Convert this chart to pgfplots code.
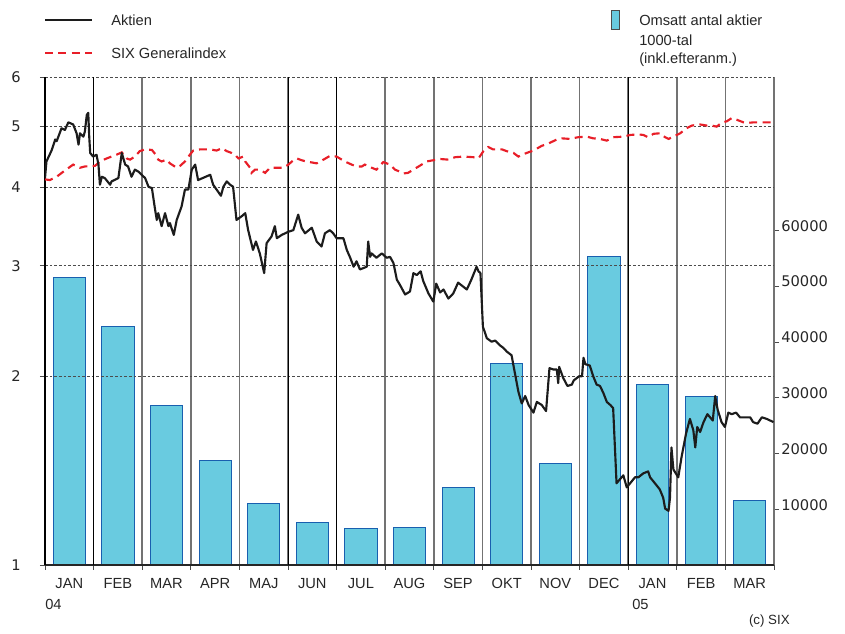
\documentclass[border=0pt]{standalone}
\usepackage{pgfplots}
\pgfplotsset{compat=1.18}
\usepackage{fontspec}
\setmainfont{Liberation Sans}
\newfontfamily\numfont{DejaVu Sans}
\definecolor{barfill}{RGB}{105,203,224}
\definecolor{baredge}{RGB}{25,95,175}
\definecolor{sixred}{RGB}{232,30,40}
\definecolor{aktblack}{RGB}{28,28,28}
\begin{document}
\begin{tikzpicture}[font=\fontsize{11}{13}\selectfont]
% bars: right linear axis
\begin{axis}[
  scale only axis, width=546.75pt, height=366pt,
  xmin=0, xmax=15, ymin=0, ymax=87500,
  axis x line=none, axis y line*=right,
  scaled y ticks=false,
  y axis line style={-, black!50, line width=1pt},
  ytick={10000,20000,30000,40000,50000,60000},
  yticklabels={10000,20000,30000,40000,50000,60000},
  tick align=outside, major tick length=3.75pt,
  y tick style={black!70, line width=0.6pt},
  yticklabel style={font=\numfont\fontsize{11}{13}\selectfont, anchor=west, inner sep=0pt, xshift=1.5pt, yshift=3.4pt, text=black!85},
]
\addplot[ybar, bar width=0.66, fill=barfill, draw=baredge, line width=0.6pt] coordinates {
(0.5,51550) (1.5,42800) (2.5,28630) (3.5,18800) (4.5,11070) (5.5,7620) (6.5,6550) (7.5,6660)
(8.5,13980) (9.5,36200) (10.5,18160) (11.5,55400) (12.5,32450) (13.5,30180) (14.5,11550)};
\end{axis}
% lines: left log axis
\begin{axis}[
  scale only axis, width=546.75pt, height=366pt,
  xmin=0, xmax=15, ymode=log, ymin=1, ymax=6,
  axis x line*=bottom, axis y line*=left,
  x axis line style={-, black!85, line width=0.8pt},
  y axis line style={-, black, line width=0.8pt},
  xtick={0.5,1.5,...,14.5},
  xticklabels={JAN,FEB,MAR,APR,MAJ,JUN,JUL,AUG,SEP,OKT,NOV,DEC,JAN,FEB,MAR},
  major x tick style={draw=none},
  minor xtick={0,1,...,15},
  xminorgrids, minor x grid style={black!55, line width=1.1pt},
  tick align=outside, minor tick length=3.75pt, major tick length=3.75pt,
  minor x tick style={black!70, line width=0.6pt},
  extra x ticks={1,5,6,12}, extra x tick labels={},
  extra x tick style={grid=major, major grid style={black, line width=0.6pt}, major x tick style={black, line width=0.6pt}},
  ytick={1,2,3,4,5,6}, yticklabels={1,2,3,4,5,6},
  yminorticks=false,
  ymajorgrids, y grid style={black!70, dash pattern=on 2pt off 1.5pt, line width=0.6pt},
  y tick style={black!70, line width=0.6pt},
  yticklabel style={font=\numfont\fontsize{11}{13}\selectfont, anchor=center, xshift=-18pt, text=black!85},
  xticklabel style={font=\fontsize{11}{13}\selectfont, text=black!85, yshift=-2.5pt},
]
\coordinate (SW) at (rel axis cs:0,0);
\coordinate (NW) at (rel axis cs:0,1);
\addplot[sixred, line width=1.6pt, dash pattern=on 6pt off 4pt] coordinates {
(0.00,4.12) (0.10,4.11) (0.24,4.16) (0.38,4.24) (0.58,4.35) (0.72,4.30) (0.82,4.32) (1.03,4.33)
(1.13,4.40) (1.27,4.45) (1.47,4.51) (1.58,4.55) (1.68,4.45) (1.75,4.43) (1.85,4.48) (1.95,4.57)
(2.06,4.60) (2.20,4.59) (2.28,4.51) (2.33,4.43) (2.40,4.40) (2.50,4.43) (2.57,4.37) (2.71,4.30)
(2.78,4.33) (2.88,4.40) (2.98,4.51) (3.05,4.58) (3.19,4.60) (3.40,4.60) (3.53,4.58) (3.64,4.62)
(3.74,4.57) (3.84,4.54) (3.91,4.51) (3.98,4.45) (4.08,4.48) (4.12,4.40) (4.22,4.30) (4.25,4.22)
(4.32,4.27) (4.42,4.27) (4.53,4.22) (4.63,4.30) (4.77,4.30) (4.90,4.30) (5.01,4.35) (5.08,4.40)
(5.18,4.45) (5.28,4.42) (5.38,4.40) (5.59,4.37) (5.73,4.43) (5.86,4.49) (6.00,4.48) (6.17,4.40)
(6.31,4.35) (6.41,4.32) (6.52,4.32) (6.58,4.35) (6.69,4.31) (6.82,4.27) (6.96,4.39) (7.10,4.35)
(7.20,4.27) (7.30,4.24) (7.37,4.21) (7.47,4.22) (7.58,4.27) (7.75,4.35) (7.85,4.40) (7.99,4.42)
(8.13,4.44) (8.30,4.43) (8.44,4.47) (8.61,4.48) (8.81,4.47) (8.92,4.45) (9.02,4.57) (9.12,4.64)
(9.22,4.60) (9.40,4.60) (9.50,4.57) (9.64,4.54) (9.74,4.48) (9.91,4.54) (10.05,4.58) (10.22,4.66)
(10.36,4.70) (10.53,4.77) (10.63,4.79) (10.80,4.78) (10.97,4.81) (11.15,4.82) (11.28,4.79) (11.42,4.78)
(11.56,4.75) (11.69,4.81) (11.90,4.82) (12.04,4.85) (12.21,4.86) (12.31,4.85) (12.41,4.81) (12.52,4.87)
(12.65,4.88) (12.76,4.81) (12.83,4.78) (12.93,4.82) (13.07,4.88) (13.20,4.97) (13.31,5.02) (13.48,5.04)
(13.62,5.02) (13.72,5.02) (13.82,5.00) (13.92,5.07) (14.03,5.10) (14.13,5.16) (14.23,5.13) (14.37,5.08)
(14.47,5.07) (14.58,5.08) (14.75,5.08) (14.95,5.08)};
\addplot[aktblack, line width=1.6pt, line join=round] coordinates {
(0.00,4.14) (0.03,4.40) (0.14,4.59) (0.21,4.77) (0.24,4.74) (0.34,4.97) (0.41,4.94) (0.48,5.08)
(0.58,5.04) (0.65,4.88) (0.69,4.68) (0.72,4.88) (0.79,4.82) (0.82,4.91) (0.86,5.22) (0.89,5.26)
(0.91,4.82) (0.93,4.54) (0.99,4.48) (1.06,4.51) (1.10,4.35) (1.13,4.04) (1.17,4.16) (1.23,4.14)
(1.34,4.04) (1.37,4.09) (1.51,4.14) (1.58,4.54) (1.65,4.35) (1.71,4.32) (1.78,4.16) (1.85,4.27)
(1.92,4.24) (2.06,4.14) (2.13,4.01) (2.20,3.99) (2.26,3.71) (2.30,3.55) (2.33,3.64) (2.40,3.47)
(2.47,3.64) (2.54,3.47) (2.57,3.51) (2.65,3.36) (2.71,3.55) (2.81,3.73) (2.88,3.97) (2.95,3.97)
(3.02,4.27) (3.09,4.35) (3.15,4.11) (3.40,4.19) (3.46,4.04) (3.53,3.97) (3.62,3.88) (3.67,4.01)
(3.74,4.09) (3.81,4.04) (3.87,4.01) (3.94,3.55) (4.05,3.60) (4.12,3.64) (4.18,3.42) (4.28,3.18)
(4.34,3.28) (4.42,3.14) (4.51,2.92) (4.56,3.26) (4.66,3.34) (4.73,3.47) (4.77,3.32) (4.87,3.36)
(5.01,3.40) (5.11,3.42) (5.21,3.62) (5.28,3.45) (5.35,3.38) (5.49,3.45) (5.59,3.28) (5.69,3.22)
(5.76,3.38) (5.86,3.42) (5.93,3.38) (6.00,3.32) (6.14,3.32) (6.21,3.18) (6.28,3.09) (6.35,2.99)
(6.41,3.05) (6.48,2.96) (6.62,2.99) (6.65,3.28) (6.69,3.10) (6.72,3.14) (6.82,3.09) (6.93,3.14)
(7.03,3.09) (7.10,3.10) (7.17,3.03) (7.24,2.85) (7.30,2.80) (7.41,2.70) (7.51,2.73) (7.58,2.92)
(7.65,2.90) (7.73,2.94) (7.78,2.84) (7.89,2.71) (7.99,2.63) (8.05,2.81) (8.13,2.72) (8.20,2.75)
(8.30,2.66) (8.40,2.71) (8.50,2.82) (8.68,2.75) (8.78,2.86) (8.88,2.99) (8.92,2.94) (8.96,2.92)
(9.01,2.40) (9.09,2.30) (9.19,2.27) (9.26,2.28) (9.36,2.24) (9.43,2.22) (9.50,2.19) (9.60,2.16)
(9.67,2.02) (9.74,1.89) (9.81,1.81) (9.88,1.86) (9.95,1.80) (10.05,1.75) (10.12,1.82) (10.22,1.80)
(10.31,1.76) (10.38,2.06) (10.46,2.05) (10.53,2.05) (10.56,1.95) (10.58,2.07) (10.66,1.99) (10.75,1.93)
(10.84,1.94) (10.88,1.97) (10.99,2.00) (11.05,2.00) (11.08,2.14) (11.12,2.09) (11.21,2.08) (11.28,2.00)
(11.35,1.94) (11.42,1.93) (11.49,1.88) (11.56,1.82) (11.63,1.80) (11.69,1.78) (11.76,1.35) (11.83,1.37)
(11.90,1.39) (11.97,1.33) (12.04,1.35) (12.14,1.38) (12.21,1.38) (12.31,1.40) (12.41,1.41) (12.45,1.38)
(12.55,1.35) (12.65,1.32) (12.72,1.28) (12.76,1.23) (12.83,1.22) (12.86,1.28) (12.89,1.54) (12.93,1.42)
(13.03,1.38) (13.10,1.49) (13.19,1.62) (13.27,1.71) (13.34,1.64) (13.38,1.54) (13.42,1.66) (13.48,1.63)
(13.55,1.69) (13.63,1.74) (13.74,1.70) (13.79,1.86) (13.84,1.77) (13.92,1.69) (13.99,1.66) (14.06,1.75)
(14.13,1.74) (14.22,1.75) (14.30,1.72) (14.40,1.72) (14.51,1.72) (14.57,1.69) (14.66,1.68) (14.75,1.72)
(14.85,1.71) (14.99,1.69)};
\end{axis}
% legend and notes
\draw[aktblack, line width=1.6pt] ([yshift=42.75pt]NW) -- ([xshift=35.25pt,yshift=42.75pt]NW);
\node[anchor=west, inner sep=0pt, text=black!85] at ([xshift=49.5pt,yshift=42.75pt]NW) {Aktien};
\draw[sixred, line width=1.6pt, dash pattern=on 6pt off 4pt] ([yshift=18pt]NW) -- ([xshift=35.25pt,yshift=18pt]NW);
\node[anchor=west, inner sep=0pt, text=black!85] at ([xshift=49.5pt,yshift=18pt]NW) {SIX Generalindex};
\filldraw[fill=barfill, draw=black!70, line width=0.6pt] ([xshift=424.5pt,yshift=36pt]NW) rectangle ([xshift=430.5pt,yshift=50.25pt]NW);
\node[anchor=west, inner sep=0pt, text=black!85] at ([xshift=445.5pt,yshift=42.75pt]NW) {Omsatt antal aktier};
\node[anchor=west, inner sep=0pt, text=black!85] at ([xshift=445.5pt,yshift=27.75pt]NW) {1000-tal};
\node[anchor=west, inner sep=0pt, text=black!85] at ([xshift=445.5pt,yshift=12.75pt]NW) {(inkl.efteranm.)};
\node[anchor=west, inner sep=0pt, text=black!85] at ([xshift=0pt,yshift=-29.25pt]SW) {04};
\node[anchor=west, inner sep=0pt, text=black!85] at ([xshift=440.25pt,yshift=-29.25pt]SW) {05};
\node[anchor=east, inner sep=0pt, text=black!85, font=\fontsize{10}{12}\selectfont] at ([xshift=558.75pt,yshift=-42pt]SW) {(c) SIX};
\pgfresetboundingbox
\path[use as bounding box] ([shift={(-33.75pt,-51pt)}]SW) rectangle ([shift={(600pt,423.75pt)}]SW);
\end{tikzpicture}
\end{document}
